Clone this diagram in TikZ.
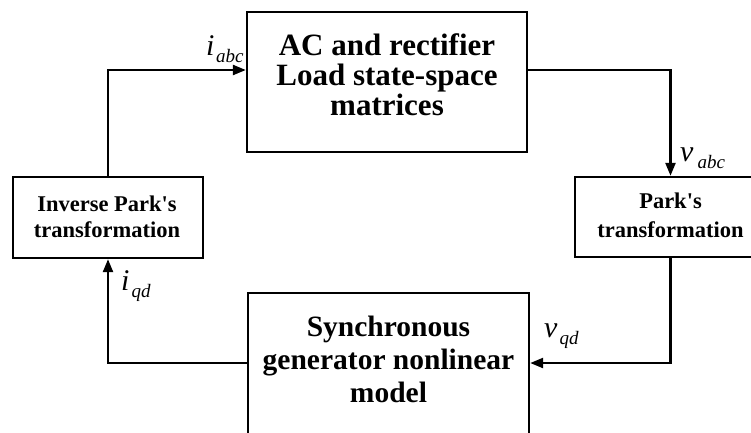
\documentclass[tikz,border=0pt]{standalone}
\usepackage{fontspec}
\setmainfont{Liberation Serif}
\usetikzlibrary{arrows.meta}

% signal label: italic symbol with a lowered italic subscript
\newcommand{\sigl}[3]{{\fontsize{30}{30}\selectfont\itshape #1}\kern#3{\fontsize{19}{19}\selectfont\itshape\raisebox{-7pt}{#2}}}
% straight apostrophe
\newcommand{\apos}{\textquotesingle}

\begin{document}
\begin{tikzpicture}[x=1pt,y=-1pt,
  blk/.style={draw, line width=2.4pt, inner sep=0pt, minimum width=#1},
  bigtxt/.style={align=center, inner sep=0pt, font=\bfseries\fontsize{31}{30}\selectfont},
  midtxt/.style={align=center, inner sep=0pt, font=\bfseries\fontsize{29.5}{33}\selectfont},
  smalltxt/.style={align=center, inner sep=0pt, font=\bfseries\fontsize{22.5}{#1}\selectfont},
  flow/.style={line width=2.4pt, -{Triangle[length=13pt,width=10pt]}},
  sig/.style={inner sep=0pt, anchor=base west}]

\useasboundingbox (0,0) rectangle (751,432);
\fill[white] (0,0) rectangle (751,432);
\clip (0,0) rectangle (751,432);

% blocks
\node[blk=280pt, minimum height=140pt] (ac)  at (387,82) {};
\node[blk=190pt, minimum height=81pt]  (inv) at (108,217.5) {};
\node[blk=191pt, minimum height=80pt]  (prk) at (670.5,217) {};
\node[blk=281pt, minimum height=148pt] (sg)  at (388.5,367) {};

% block texts
\node[bigtxt] (actxt) at (387,75) {AC and rectifier\\Load state-space\\matrices};
\node[smalltxt=26.5pt] (invtxt) at (107,217) {Inverse Park\apos s\\transformation};
\node[smalltxt=29pt] (prktxt) at (670.5,215.5) {Park\apos s\\transformation};
\node[midtxt] (sgtxt) at (388.5,359.5) {Synchronous\\generator nonlinear\\model};

% connector levels
\coordinate (ytop) at (0,70);
\coordinate (ybot) at (0,363);

% connectors
\draw[flow] (inv.north) |- (ac.west |- ytop);
\draw[flow] (ac.east |- ytop) -| (prk.north);
\draw[flow] (prk.south) |- (sg.east |- ybot);
\draw[flow] (sg.west |- ybot) -| (inv.south);

% signal labels
\node[sig] (liabc) at (206,55)  {\sigl{i}{abc}{1.5pt}};
\node[sig] (lvabc) at (680,161) {\sigl{v}{abc}{4pt}};
\node[sig] (liqd)  at (121,290) {\sigl{i}{qd}{2pt}};
\node[sig] (lvqd)  at (544,337) {\sigl{v}{qd}{2pt}};
\end{tikzpicture}
\end{document}
